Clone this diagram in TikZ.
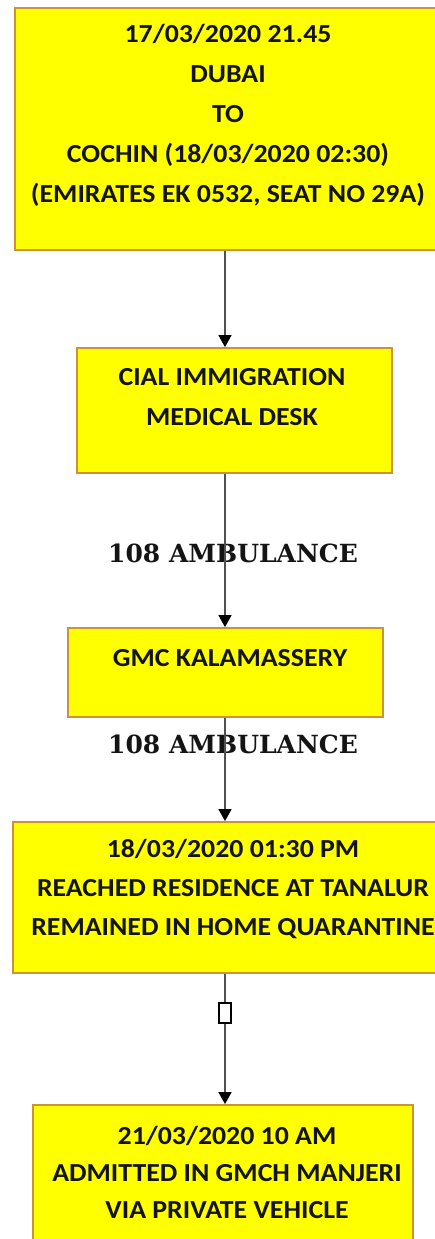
\documentclass[tikz,border=0pt]{standalone}
\usepackage{fontspec}
\setmainfont{Carlito}[FakeStretch=1.07]
\newfontfamily\lblfont{DejaVu Serif}
\usetikzlibrary{arrows.meta}
\definecolor{boxfill}{RGB}{255,255,0}
\definecolor{boxline}{RGB}{205,145,55}
\definecolor{linegray}{RGB}{80,80,80}
\definecolor{txtcol}{RGB}{20,20,20}
\tikzset{
  box/.style={rectangle, draw=boxline, fill=boxfill, line width=1.8pt, inner sep=0pt},
  txt/.style={font=\bfseries\fontsize{26}{#1}\selectfont, text=txtcol, align=center, inner sep=0pt},
  txt/.default=39,
  lbl/.style={font=\lblfont\bfseries\fontsize{25}{30}\selectfont, text=txtcol, inner sep=0pt},
  conn/.style={draw=linegray, line width=1.5pt, -{Triangle[width=13pt,length=12pt,color=black]}},
  marker/.style={rectangle, draw=black, fill=white, line width=1.4pt, minimum width=12pt, minimum height=20pt, inner sep=0pt},
}
\begin{document}
\begin{tikzpicture}[x=1pt,y=-1pt]
\path[use as bounding box, clip] (0,0) rectangle (435,1239);
\fill[white] (0,0) rectangle (435,1239);
% boxes
\node[box, minimum width=426pt, minimum height=242pt] (b1) at (228,129) {};
\node[box, minimum width=315pt, minimum height=125pt] (b2) at (234.5,410.5) {};
\node[box, minimum width=315pt, minimum height=89pt] (b3) at (225.5,672.5) {};
\node[box, minimum width=446pt, minimum height=151pt] (b4) at (236,897.5) {};
\node[box, minimum width=380pt, minimum height=155pt] (b5) at (223,1182.5) {};
% texts
\node[txt=40] (t1) at (228,115) {17/03/2020 21.45\\DUBAI\\TO\\COCHIN (18/03/2020 02:30)\\(EMIRATES EK 0532, SEAT NO 29A)};
\node[txt=40] (t2) at (232,397) {CIAL IMMIGRATION\\MEDICAL DESK};
\node[txt] (t3) at (230,658) {GMC KALAMASSERY};
\node[txt=39] (t4) at (233,889) {18/03/2020 01:30 PM\\REACHED RESIDENCE AT TANALUR\\REMAINED IN HOME QUARANTINE};
\node[txt=37] (t5) at (227,1172) {21/03/2020 10 AM\\ADMITTED IN GMCH MANJERI\\VIA PRIVATE VEHICLE};
% labels
\node[lbl] (l1) at (233,553) {108 AMBULANCE};
\node[lbl] (l2) at (233,744) {108 AMBULANCE};
% connectors
\draw[conn] (225,0 |- b1.south) -- (225,0 |- b2.north);
\draw[conn] (225,0 |- b2.south) -- (225,0 |- b3.north);
\draw[conn] (225,0 |- b3.south) -- (225,0 |- b4.north);
\node[marker] (m) at (225,1013) {};
\draw[draw=linegray, line width=1.5pt] (225,0 |- b4.south) -- (m.north);
\draw[conn] (m.south) -- (225,0 |- b5.north);
\end{tikzpicture}
\end{document}
